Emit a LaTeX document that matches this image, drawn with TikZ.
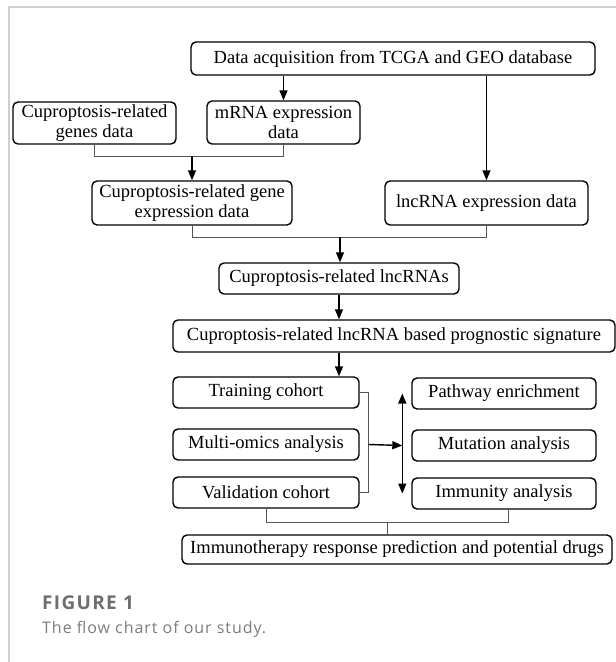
\documentclass[tikz,border=0pt]{standalone}
\usepackage{fontspec}
\setmainfont{Liberation Serif}
\newfontfamily\capfont{Open Sans}
\usetikzlibrary{arrows.meta,calc}
\definecolor{framegray}{HTML}{CFCFCF}
\definecolor{brkgray}{HTML}{555555}
\definecolor{capgray}{HTML}{6E6E6E}
\definecolor{capgrayb}{HTML}{7C7C7C}
\begin{document}
\begin{tikzpicture}[x=1pt,y=-1pt,
  box/.style={draw, line width=1.4pt, rounded corners=5pt, inner sep=0pt, align=center,
              font=\fontsize{18.5}{20}\selectfont},
  arr/.style={line width=1.4pt, -{Triangle[length=10pt,width=8pt]}},
  darr/.style={line width=1.4pt, {Triangle[length=10pt,width=8pt]}-{Triangle[length=10pt,width=8pt]}},
  brk/.style={line width=1pt, draw=brkgray}]
\useasboundingbox (0,0) rectangle (616,662);
\draw[framegray, line width=1.5pt] (616,7) -- (9,7) -- (9,662);

\node[box, minimum width=404pt, minimum height=33pt] (top) at (393,58.5) {Data acquisition from TCGA and GEO database};
\node[box, minimum width=163pt, minimum height=42pt] (genes) at (94.5,123) {Cuproptosis-related\\genes data};
\node[box, minimum width=153pt, minimum height=43pt] (mrna) at (283.5,122.5) {mRNA expression\\data};
\node[box, minimum width=200pt, minimum height=44pt] (geneexpr) at (192,203) {Cuproptosis-related gene\\expression data};
\node[box, minimum width=203pt, minimum height=44pt] (lncexpr) at (486.5,203) {lncRNA expression data};
\node[box, minimum width=240pt, minimum height=31pt] (lncs) at (339,278.5) {Cuproptosis-related lncRNAs};
\node[box, minimum width=442pt, minimum height=32pt] (sig) at (394,336) {Cuproptosis-related lncRNA based prognostic signature};
\node[box, minimum width=186pt, minimum height=31pt] (train) at (266,392.5) {Training cohort};
\node[box, minimum width=186pt, minimum height=31pt] (multi) at (266,444.5) {Multi-omics analysis};
\node[box, minimum width=186pt, minimum height=31pt] (valid) at (266,492.5) {Validation cohort};
\node[box, minimum width=184pt, minimum height=31pt] (path) at (504,393.5) {Pathway enrichment};
\node[box, minimum width=184pt, minimum height=31pt] (mut) at (504,445.5) {Mutation analysis};
\node[box, minimum width=184pt, minimum height=31pt] (immu) at (504,493.5) {Immunity analysis};
\node[box, minimum width=430pt, minimum height=29pt] (immuno) at (397,549.5) {Immunotherapy response prediction and potential drugs};

% top level arrows
\draw[arr] (top.south -| mrna.north) -- (mrna.north);
\draw[arr] (top.south -| lncexpr.north) -- (lncexpr.north);

% genes + mRNA bracket
\draw[brk] (genes.south) -- ++(0,12) -| (mrna.south);
\coordinate (j1) at (192,156);
\draw[arr] (j1) -- (geneexpr.north);

% gene expr + lncRNA expr bracket
\draw[brk] (geneexpr.south) -- ++(0,12) -| (lncexpr.south);
\coordinate (j2) at (340,237);
\draw[arr] (j2) -- (j2 |- lncs.north);

\draw[arr] (lncs.south) -- (lncs.south |- sig.north);
\draw[arr] (sig.south -| lncs.south) -- (train.north -| lncs.south);

% cohort bracket
\draw[brk] (train.east) -- ++(9,0) |- (valid.east);
\coordinate (j3) at ($(multi.east)+(9,0)$);
\coordinate (j4) at ($(mut.west)+(-9,0)$);
\draw[arr] (j3) -- (j4);
\draw[darr] ($(path.west)+(-9,0)$) -- ($(immu.west)+(-9,0)$);

% bottom bracket
\draw[brk] (valid.south) -- ++(0,14) -| ($(immu.south)+(4,0)$);
\coordinate (j5) at (387,523);
\draw[brk] (j5) -- (j5 |- immuno.north);

% caption
\node[anchor=base west, inner sep=0pt, text=capgray, font=\capfont\addfontfeature{LetterSpace=7}\bfseries\fontsize{19}{22}\selectfont] (fig) at (42,609) {FIGURE 1};
\node[anchor=base west, inner sep=0pt, text=capgrayb, font=\capfont\addfontfeature{LetterSpace=6}\fontsize{16}{19}\selectfont] (cap) at (42,633) {The flow chart of our study.};
\end{tikzpicture}
\end{document}
